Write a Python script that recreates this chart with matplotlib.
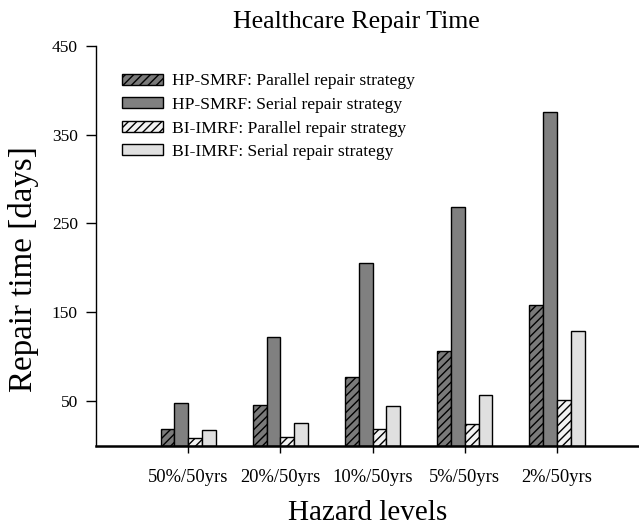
import matplotlib
matplotlib.use("Agg")
import matplotlib.pyplot as plt
import numpy as np

plt.rcParams['font.family'] = ['Liberation Serif', 'DejaVu Serif']
plt.rcParams['hatch.linewidth'] = 1.0

hazard_levels = ["50%/50yrs", "20%/50yrs", "10%/50yrs", "5%/50yrs", "2%/50yrs"]
hp_smrf_parallel = [19, 46, 77, 106, 158]
hp_smrf_serial = [48, 122, 205, 269, 375]
bi_imrf_parallel = [8, 10, 19, 24, 51]
bi_imrf_serial = [18, 25, 44, 57, 129]

series = [
    ("HP-SMRF: Parallel repair strategy", hp_smrf_parallel, "#7a7a7a", "////"),
    ("HP-SMRF: Serial repair strategy", hp_smrf_serial, "#808080", None),
    ("BI-IMRF: Parallel repair strategy", bi_imrf_parallel, "#f2f2f2", "////"),
    ("BI-IMRF: Serial repair strategy", bi_imrf_serial, "#e0e0e0", None),
]

fig = plt.figure(figsize=(6.39, 5.27), dpi=100)
ax = fig.add_axes([96 / 639, 1 - 445.5 / 527, 1 - 96 / 639, (445.5 - 45.7) / 527])

x = np.arange(1, len(hazard_levels) + 1)
width = 0.15
for i, (label, vals, color, hatch) in enumerate(series):
    offset = (i - 1.5) * width
    ax.bar(x + offset, vals, width, color=color, edgecolor="black",
           linewidth=1.0, hatch=hatch, label=label)

ax.set_xlim(0, 5.89)
ax.set_ylim(0, 450)
ax.set_yticks([50, 150, 250, 350, 450])
ax.set_xticks(x)
ax.set_xticklabels(hazard_levels)

for s in ["top", "right"]:
    ax.spines[s].set_visible(False)
ax.spines["left"].set_linewidth(1.0)
ax.spines["bottom"].set_linewidth(1.8)

ax.tick_params(axis="x", direction="out", length=5, width=1, pad=12, labelsize=13.3)
ax.tick_params(axis="y", direction="out", length=7, width=1, pad=6, labelsize=12.5)

ax.set_xlabel("Hazard levels", fontsize=21, labelpad=10)

# y-axis title, placed in figure pixels
fig.text(24 / 639, 1 - 269 / 527, "Repair time [days]", rotation=90,
         ha="center", va="center", fontsize=23.8)

fig.text(356.5 / 639, 1 - 22 / 527, "Healthcare Repair Time",
         ha="center", va="center", fontsize=18.6)

ax.legend(loc="upper left", bbox_to_anchor=(0.035, 0.948), frameon=False,
          fontsize=12.6, handlelength=2.35, handleheight=0.6,
          handletextpad=0.5, labelspacing=0.43, borderaxespad=0)

fig.savefig("out.png", dpi=100)
